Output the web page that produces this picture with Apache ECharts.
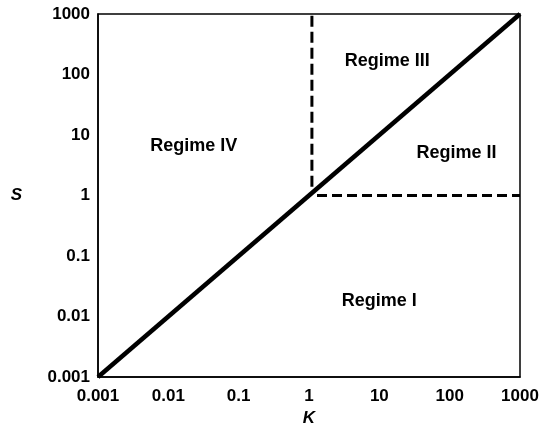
<!DOCTYPE html>
<html>
<head>
<meta charset="utf-8">
<script src="https://cdn.jsdelivr.net/npm/echarts@6/dist/echarts.min.js"></script>
<style>
  html, body { margin: 0; padding: 0; background: #fff; }
  #chart { width: 546px; height: 428px; }
</style>
</head>
<body>
<div id="chart"></div>
<script>
// tick labels on both log axes
var tickValues = [0.001, 0.01, 0.1, 1, 10, 100, 1000];
var tickLabels = ['0.001', '0.01', '0.1', '1', '10', '100', '1000'];

// boundary K = S
var diagonalK = [0.001, 1000];
var diagonalS = [0.001, 1000];

// dashed boundaries
var verticalK = [1.1, 1.1];
var verticalS = [1.4, 1000];
var horizontalK = [1.3, 1000];
var horizontalS = [1, 1];

// regime labels (placed at K, S)
var regimeNames = ['Regime I', 'Regime II', 'Regime III', 'Regime IV'];
var regimeK = [10, 125, 13, 0.023];
var regimeS = [0.018, 5, 165, 6.6];

function pairs(xs, ys) {
    return xs.map(function (x, i) { return [x, ys[i]]; });
}

function tickText(v) {
    var best = 0;
    tickValues.forEach(function (t, i) {
        if (Math.abs(Math.log10(t) - Math.log10(v)) < Math.abs(Math.log10(tickValues[best]) - Math.log10(v))) best = i;
    });
    return tickLabels[best];
}

var font = 'Liberation Sans, Arial, Helvetica, sans-serif';
var myChart = echarts.init(document.getElementById('chart'));

var axisCommon = {
    type: 'log',
    logBase: 10,
    min: 0.001,
    max: 1000,
    splitLine: { show: false },
    axisTick: { show: false },
    axisLine: { show: true, lineStyle: { color: '#000', width: 1.5 } },
    axisLabel: {
        color: '#000',
        fontFamily: font,
        fontWeight: 'bold',
        fontSize: 17,
        formatter: tickText
    },
    nameTextStyle: {
        color: '#000',
        fontFamily: font,
        fontWeight: 'bold',
        fontStyle: 'italic',
        fontSize: 17
    }
};

var option = {
    animation: false,
    grid: {
        left: 98, right: 26, top: 14, bottom: 51,
        outerBoundsMode: 'none',
        containLabel: false,
        show: true, borderColor: '#000', borderWidth: 1.5,
        backgroundColor: 'transparent'
    },
    xAxis: Object.assign({}, axisCommon, {
        name: 'K',
        nameLocation: 'middle',
        nameGap: 33,
        axisLabel: Object.assign({}, axisCommon.axisLabel, { margin: 11 })
    }),
    yAxis: Object.assign({}, axisCommon, {
        name: 'S',
        nameLocation: 'middle',
        nameRotate: 0,
        nameGap: 76,
        axisLabel: Object.assign({}, axisCommon.axisLabel, { margin: 8 })
    }),
    series: [
        {
            type: 'line',
            data: pairs(diagonalK, diagonalS),
            symbol: 'none',
            lineStyle: { color: '#000', width: 4.5 }
        },
        {
            type: 'line',
            data: pairs(verticalK, verticalS),
            symbol: 'none',
            lineStyle: { color: '#000', width: 3, type: [11, 5] }
        },
        {
            type: 'line',
            data: pairs(horizontalK, horizontalS),
            symbol: 'none',
            lineStyle: { color: '#000', width: 3, type: [10, 5] }
        },
        {
            type: 'scatter',
            symbolSize: 1,
            itemStyle: { color: 'transparent', opacity: 1 },
            data: regimeNames.map(function (n, i) {
                return { name: n, value: [regimeK[i], regimeS[i]] };
            }),
            label: {
                show: true,
                position: 'inside',
                formatter: '{b}',
                color: '#000',
                opacity: 1,
                fontFamily: font,
                fontWeight: 'bold',
                fontSize: 18
            }
        }
    ]
};

myChart.setOption(option);
</script>
</body>
</html>
